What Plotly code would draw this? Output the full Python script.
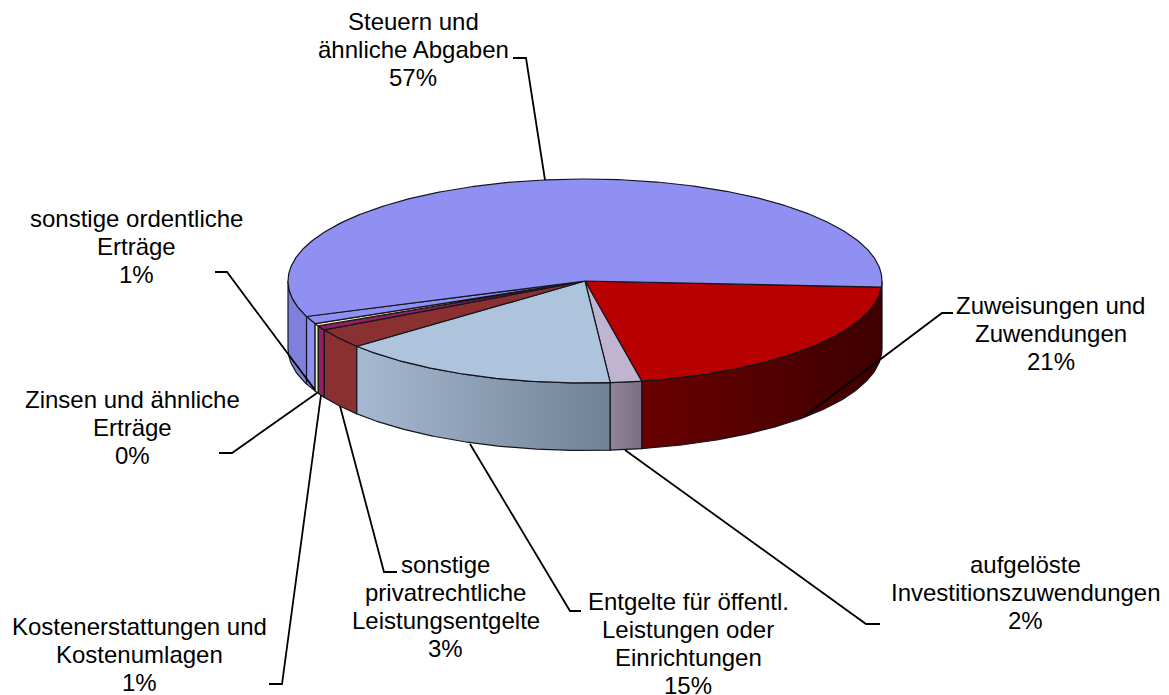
import numpy as np
import plotly.graph_objects as go

categories = [["Zuweisungen und", "Zuwendungen"], ["aufgelöste", "Investitionszuwendungen"],
              ["Entgelte für öffentl.", "Leistungen oder", "Einrichtungen"],
              ["sonstige", "privatrechtliche", "Leistungsentgelte"],
              ["Kostenerstattungen und", "Kostenumlagen"], ["Zinsen und ähnliche", "Erträge"],
              ["sonstige ordentliche", "Erträge"], ["Steuern und", "ähnliche Abgaben"]]
values = [21.0, 1.7, 15.3, 3.1, 0.7, 0.4, 1.2, 56.6]
top_colors = ["#B80000", "#C0B4D0", "#AEC4DC", "#8B3030", "#902060", "#F5F5C0", "#9090F2", "#9090F2"]
side_colors = [["#6A0000", "#3E0000"], ["#908498", "#7A6E82"], ["#A6B9D1", "#6F8296"],
               ["#8B3030", "#8B3030"], ["#902060", "#902060"], ["#F5F5C0", "#F5F5C0"],
               ["#9090F2", "#9090F2"], ["#7F80DC", "#7F80DC"]]

label_x = [1050.5, 1025.5, 688, 445.5, 139, 132, 136, 413]
first_line_y = [305, 564, 601, 564, 626, 399, 218, 21]
LINE_STEP = 28

leader_x = [[953, 942, 805], [880, 866, 625], [581, 570, 470], [397, 384, 340],
            [269, 282, 321], [219, 232, 317], [215, 227, 315], [513, 526, 545]]
leader_y = [[313, 313, 416], [624, 624, 450], [611, 611, 444], [572, 572, 406],
            [684, 684, 395], [453, 453, 393], [272, 272, 390], [58, 58, 180]]

CX, CY, RX, RY, DEPTH = 585, 281, 297, 102, 67.5
START_DEG = 3.4
OUTLINE = "#15151f"
FONT = "Liberation Sans"


def arc(a0, a1):
    n = max(2, int(abs(a1 - a0) * 2) + 2)
    t = np.radians(np.linspace(a0, a1, n))
    return CX + RX * np.cos(t), CY + RY * np.sin(t)


fig = go.Figure()
spans = START_DEG + np.concatenate([[0], np.cumsum(values)]) * 3.6

# side walls: the part of each slice on the front half of the ellipse
walls = []
for i in range(len(values)):
    a0, a1 = spans[i], spans[i + 1]
    for lo, hi in ((0, 180), (360, 540)):
        s0, s1 = max(a0, lo), min(a1, hi)
        if s1 > s0:
            walls.append((i, s0, s1))
for i, s0, s1 in sorted(walls, key=lambda w: abs(((w[1] + w[2]) / 2 % 360) - 90), reverse=True):
    x, y = arc(s0, s1)
    px = np.concatenate([x, x[::-1], x[:1]])
    py = np.concatenate([y, y[::-1] + DEPTH, y[:1]])
    c0, c1 = side_colors[i]
    fig.add_trace(go.Scatter(
        x=px, y=py, mode="lines", line=dict(color=OUTLINE, width=1.2), fill="toself",
        fillgradient=dict(type="horizontal", colorscale=[[0, c0], [1, c1]])
        if c0 != c1 else None,
        fillcolor=c0 if c0 == c1 else None, hoverinfo="skip", showlegend=False))

# top faces
for i in range(len(values)):
    x, y = arc(spans[i], spans[i + 1])
    fig.add_trace(go.Scatter(
        x=np.concatenate([[CX], x, [CX]]), y=np.concatenate([[CY], y, [CY]]),
        mode="lines", line=dict(color=OUTLINE, width=1.2), fill="toself",
        fillcolor=top_colors[i], hoverinfo="skip", showlegend=False))

# leader lines
for lx, ly in zip(leader_x, leader_y):
    fig.add_trace(go.Scatter(x=lx, y=ly, mode="lines", line=dict(color="black", width=1.8),
                             hoverinfo="skip", showlegend=False))

# labels, one annotation per line to hold the tight line spacing
for lines, v, x, y0 in zip(categories, values, label_x, first_line_y):
    for k, text in enumerate(lines + [f"{round(v):d}%"]):
        fig.add_annotation(x=x, y=y0 + k * LINE_STEP, text=text, showarrow=False,
                           xanchor="center", yanchor="middle", align="center",
                           font=dict(family=FONT, size=24, color="black"))

fig.update_layout(
    width=1169, height=695, margin=dict(l=0, r=0, t=0, b=0),
    paper_bgcolor="white", plot_bgcolor="white", showlegend=False,
    xaxis=dict(range=[0, 1169], visible=False, fixedrange=True),
    yaxis=dict(range=[695, 0], visible=False, fixedrange=True),
)
fig.write_html("out.html", config={"displayModeBar": False},
               post_script="document.body.style.margin='0';document.body.style.overflow='hidden';")
